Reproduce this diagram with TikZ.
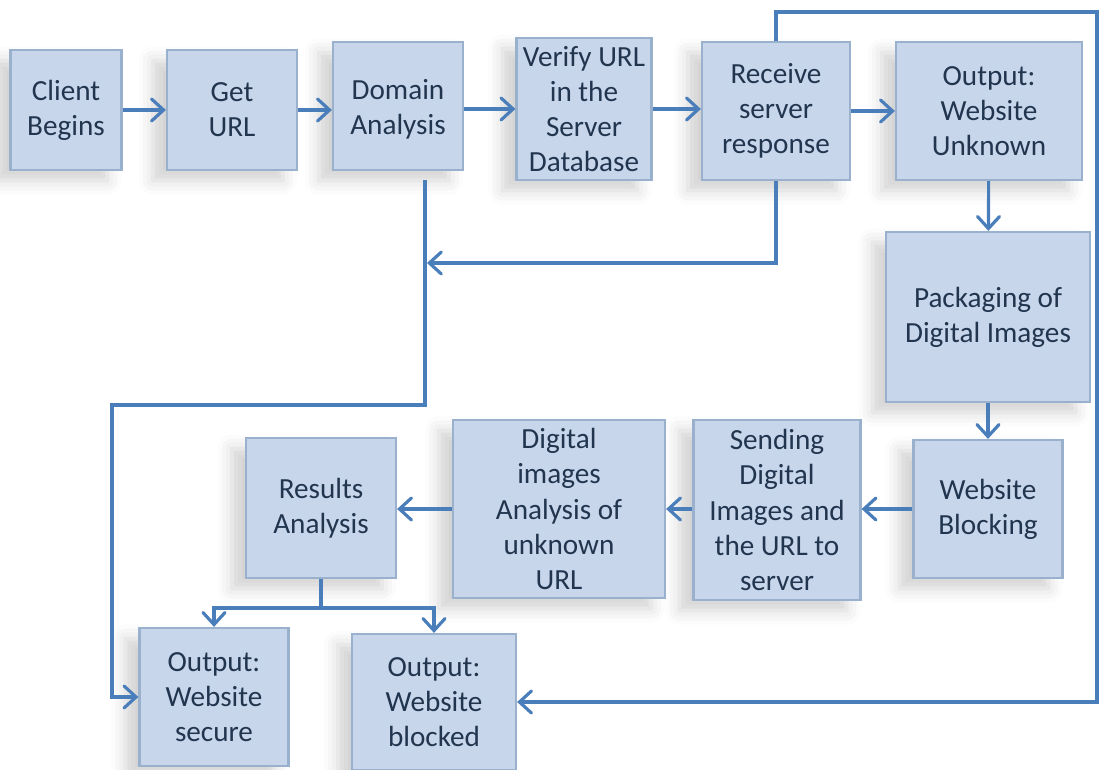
\documentclass[tikz,border=0pt]{standalone}
\usepackage{fontspec}
\setmainfont{Carlito}
\usetikzlibrary{arrows.meta,shadows.blur}
\definecolor{boxfill}{HTML}{C7D6EA}
\definecolor{boxline}{HTML}{9AB1CE}
\definecolor{flow}{HTML}{4A7EBB}
\definecolor{ink}{HTML}{22354F}
\begin{document}
\begin{tikzpicture}
    [%%%%%%%%%%%%%%%%%%%%%%%%%%%%%%
        x=0.01cm,y=-0.01cm,
        box/.style={rectangle,draw=boxline,fill=boxfill,line width=0.6pt,inner sep=0pt,align=center,
            text=ink,font=\fontsize{8.3}{10}\selectfont,
            blur shadow={shadow xshift=-4pt,shadow yshift=-3pt,shadow opacity=18,shadow blur radius=4pt}},
        flowline/.style={draw=flow,line width=0.9pt},
        arrow/.style={flowline,-{Straight Barb[length=1.2mm,width=2.2mm,line cap=round]}},
    ]%%%%%%%%%%%%%%%%%%%%%%%%%%%%%%

\useasboundingbox (0,0) rectangle (1099,770);

% top row
\node[box,minimum width=1.11cm,minimum height=1.2cm] (client) at (66,110) {Client\\Begins};
\node[box,minimum width=1.3cm,minimum height=1.2cm] (geturl) at (232,110) {Get\\URL};
\node[box,minimum width=1.3cm,minimum height=1.28cm] (domain) at (398,106) {\\[-0.08cm]Domain\\Analysis};
\node[box,minimum width=1.35cm,minimum height=1.42cm] (verify) at (584,109) {Verify URL\\in the\\Server\\Database};
\node[box,minimum width=1.48cm,minimum height=1.38cm] (receive) at (776,111) {Receive\\server\\response};
\node[box,minimum width=1.86cm,minimum height=1.38cm] (unknown) at (989,111) {Output:\\Website\\Unknown};

% right column
\node[box,minimum width=2.03cm,minimum height=1.7cm] (packaging) at (988,317) {Packaging of\\Digital Images};
\node[box,minimum width=1.49cm,minimum height=1.38cm] (blocking) at (988,509) {Website\\Blocking};

% bottom row
\node[box,minimum width=1.67cm,minimum height=1.8cm] (sending) at (777,510) {Sending\\Digital\\Images and\\the URL to\\server};
\node[box,minimum width=2.12cm,minimum height=1.78cm] (analysis) at (559,509) {Digital\\images\\Analysis of\\unknown\\URL};
\node[box,minimum width=1.5cm,minimum height=1.4cm] (results) at (321,508) {Results\\Analysis};

% outputs
\node[box,minimum width=1.49cm,minimum height=1.38cm] (secure) at (214,697) {Output:\\Website\\secure};
\node[box,minimum width=1.64cm,minimum height=1.36cm] (blocked) at (434,702) {Output:\\Website\\blocked};

\coordinate (dstart) at (425,180);
\coordinate (dturn) at (425,405);
\coordinate (dleft) at (112,405);
\coordinate (join) at (427,263);
\coordinate (topright) at (1097,12);
\coordinate (split) at (321,608);

\draw[arrow] (client) -- (geturl);
\draw[arrow] (geturl) -- (domain.west |- geturl);
\draw[arrow] (domain.east |- verify) -- (verify);
\draw[arrow] (verify) -- (receive.west |- verify);
\draw[arrow] (receive) -- (unknown);
\draw[arrow] (unknown) -- (packaging);
\draw[arrow] (packaging) -- (blocking);
\draw[arrow] (blocking) -- (sending.east |- blocking);
\draw[arrow] (sending.west |- analysis) -- (analysis);
\draw[arrow] (analysis) -- (results.east |- analysis);

\draw[flowline] (results.south) -- (split);
\draw[arrow] (split) -| (secure.north);
\draw[arrow] (split) -| (blocked.north);

\draw[arrow] (dstart) -- (dturn) -- (dleft) |- (secure.west);
\draw[arrow] (receive.south) |- (join);
\draw[arrow] (receive.north) |- (topright) |- (blocked.east);
\end{tikzpicture}
\end{document}
